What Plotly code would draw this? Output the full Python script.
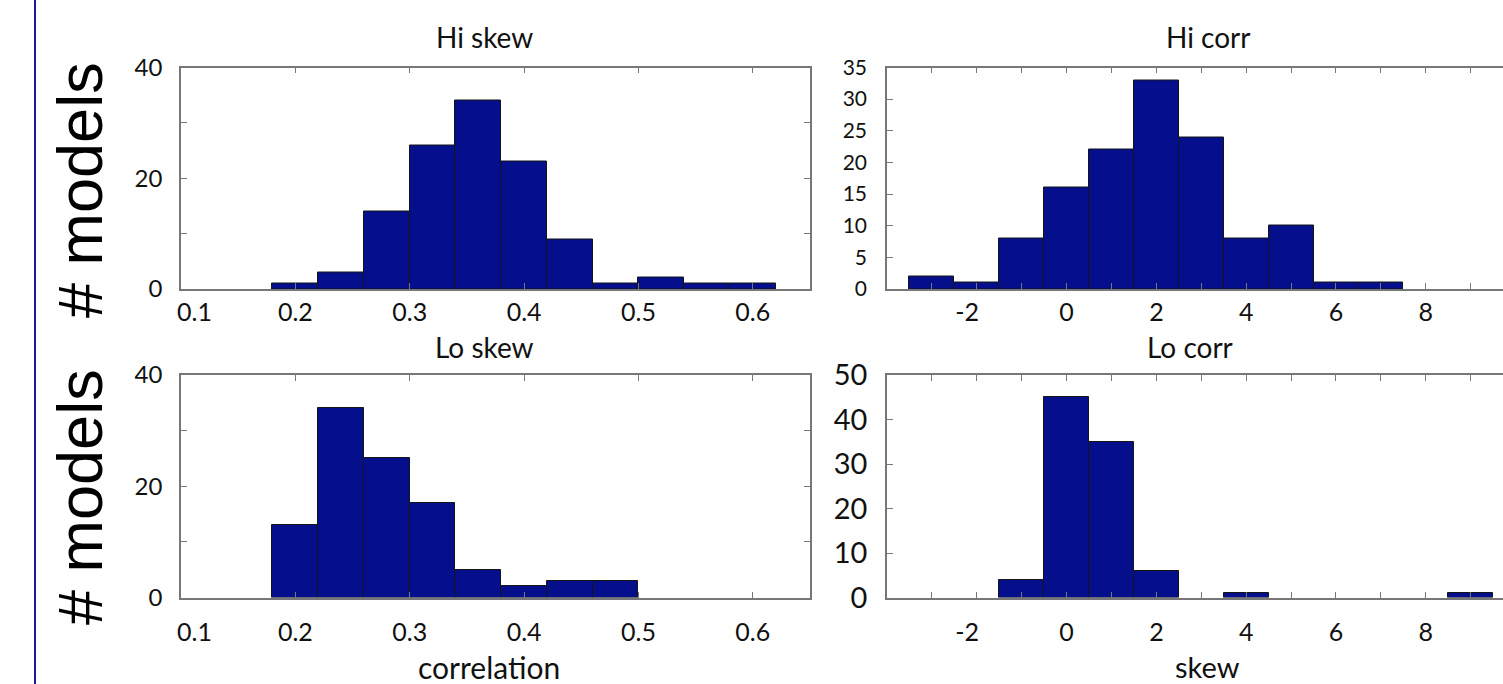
import plotly.graph_objects as go

W, H = 1503, 684

# Histogram bins: correlation (width 0.04) and skew (width 1)
corr_centers = [0.20, 0.24, 0.28, 0.32, 0.36, 0.40, 0.44, 0.48, 0.52, 0.56, 0.60]
corr_width = 0.04
skew_centers = [-3, -2, -1, 0, 1, 2, 3, 4, 5, 6, 7, 8, 9]
skew_width = 1.0

# Model counts per bin
hi_skew_counts = [1, 3, 14, 26, 34, 23, 9, 1, 2, 1, 1]
lo_skew_counts = [13, 34, 25, 17, 5, 2, 3, 3, 0, 0, 0]
hi_corr_counts = [2, 1, 8, 16, 22, 33, 24, 8, 10, 1, 1, 0, 0]
lo_corr_counts = [0, 0, 4, 45, 35, 6, 0, 1, 0, 0, 0, 0, 1]

corr_ticks = [0.1, 0.2, 0.3, 0.4, 0.5, 0.6]
skew_ticks = [-2, 0, 2, 4, 6, 8]

BAR = "#050f8c"
FRAME = "#777777"
TXT = "#111111"
FONT = "Lato, 'Open Sans', sans-serif"
NBSP = "\u00a0"


def px_x(p):
    return p / W


def px_y(p):
    return 1 - p / H


def corr_label(v):
    # the first label is drawn separately, nudged inside the frame
    return "" if v == corr_ticks[0] else f"{v:.1f}"


def skew_label(v):
    # negative labels end at their tick
    return f"-{-v}" + NBSP * 3 if v < 0 else str(v)


fig = go.Figure()

panels = [
    # (xaxis id, yaxis id, centers, width, counts)
    ("x", "y", corr_centers, corr_width, hi_skew_counts),
    ("x2", "y2", skew_centers, skew_width, hi_corr_counts),
    ("x3", "y3", corr_centers, corr_width, lo_skew_counts),
    ("x4", "y4", skew_centers, skew_width, lo_corr_counts),
]
for xa, ya, centers, width, counts in panels:
    # empty bins are left to the axis line
    xs = [c for c, n in zip(centers, counts) if n > 0]
    ys = [n for n in counts if n > 0]
    fig.add_trace(go.Bar(
        x=xs, y=ys, width=width, xaxis=xa, yaxis=ya,
        marker=dict(color=BAR, line=dict(color="#151515", width=1)),
        showlegend=False, hoverinfo="x+y",
    ))

common = dict(
    showline=True, linecolor=FRAME, linewidth=1.5,
    ticks="inside", ticklen=6, tickcolor=FRAME, tickwidth=1,
    showgrid=False, zeroline=False, fixedrange=True, automargin=False,
)

left_x = [px_x(181), px_x(810)]
right_x = [px_x(887), 1.0]
top_y = [px_y(289), px_y(67.5)]
bot_y = [px_y(597.5), px_y(375)]

corr_x = dict(common, range=[0.1, 0.65], tickvals=corr_ticks,
              ticktext=[corr_label(v) for v in corr_ticks], mirror="ticks",
              tickfont=dict(family=FONT, size=25, color=TXT))
skew_x = dict(common, range=[-4.0, 9.72], tickvals=skew_ticks,
              ticktext=[skew_label(v) for v in skew_ticks],
              mirror="ticks", minor=dict(dtick=1, tick0=0, ticks="inside",
                                         ticklen=6, tickcolor=FRAME),
              tickfont=dict(family=FONT, size=25, color=TXT))

fig.update_layout(
    width=W, height=H, margin=dict(l=0, r=0, t=0, b=0, autoexpand=False),
    paper_bgcolor="white", plot_bgcolor="white", bargap=0,
    xaxis=dict(corr_x, domain=left_x, anchor="y", ticklabelstandoff=0),
    yaxis=dict(common, domain=top_y, anchor="x", range=[0, 40], dtick=20,
               mirror="ticks", minor=dict(dtick=10, ticks="inside", ticklen=6, tickcolor=FRAME),
               tickfont=dict(family=FONT, size=24, color=TXT), ticklabelstandoff=12),
    xaxis2=dict(skew_x, domain=right_x, anchor="y2", ticklabelstandoff=0),
    yaxis2=dict(common, domain=top_y, anchor="x2", range=[0, 35], dtick=5,
                mirror=False, tickfont=dict(family=FONT, size=21, color=TXT),
                ticklabelstandoff=14),
    xaxis3=dict(corr_x, domain=left_x, anchor="y3", ticklabelstandoff=12),
    yaxis3=dict(common, domain=bot_y, anchor="x3", range=[0, 40], dtick=20,
                mirror="ticks", minor=dict(dtick=10, ticks="inside", ticklen=6, tickcolor=FRAME),
                tickfont=dict(family=FONT, size=24, color=TXT), ticklabelstandoff=12),
    xaxis4=dict(skew_x, domain=right_x, anchor="y4", ticklabelstandoff=12),
    yaxis4=dict(common, domain=bot_y, anchor="x4", range=[0, 50], dtick=10,
                mirror=False, tickfont=dict(family=FONT, size=29, color=TXT),
                ticklabelstandoff=12),
)

# First correlation tick label, placed at its tick and nudged right
for xa, ya, label_y in (("x", "y", 311), ("x3", "y3", 631)):
    fig.add_annotation(text=f"{corr_ticks[0]:.1f}", x=corr_ticks[0], xref=xa,
                       y=px_y(label_y), yref="paper", xshift=13, showarrow=False,
                       xanchor="center", yanchor="middle",
                       font=dict(family=FONT, size=25, color=TXT))

# Panel titles and axis labels
texts = [
    ("Hi skew", 484, 37, 28),
    ("Hi corr", 1208, 37, 28),
    ("Lo skew", 484, 347, 28),
    ("Lo corr", 1190, 347, 28),
    ("correlation", 489, 667, 30),
    ("skew", 1207, 666, 29),
]
for t, x, y, s in texts:
    fig.add_annotation(text=t, x=px_x(x), y=px_y(y), xref="paper", yref="paper",
                       showarrow=False, xanchor="center", yanchor="middle",
                       font=dict(family=FONT, size=s, color=TXT))

# Shared y-axis labels
for yc in (190, 497):
    fig.add_annotation(text="# models", x=px_x(80), y=px_y(yc), xref="paper", yref="paper",
                       showarrow=False, textangle=-90, xanchor="center", yanchor="middle",
                       font=dict(family="'Liberation Sans', Arial, sans-serif", size=63,
                                 color="#000000"))

# Left border rule
fig.add_shape(type="line", xref="paper", yref="paper", x0=px_x(35), x1=px_x(35),
              y0=0, y1=1, line=dict(color="#1a1aa0", width=2))

fig.write_html("out.html")
